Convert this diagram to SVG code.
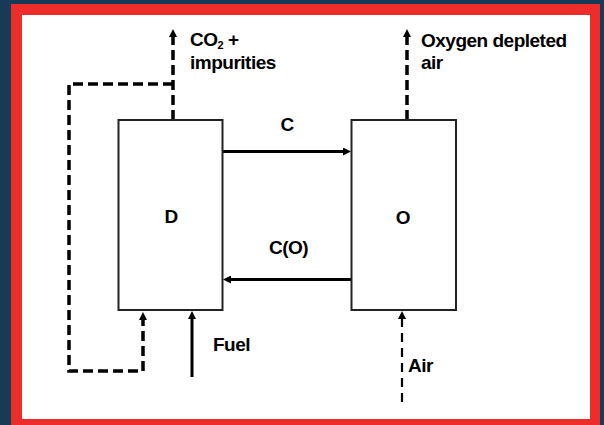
<svg xmlns="http://www.w3.org/2000/svg" width="604" height="425" viewBox="0 0 604 425">
<defs>
<style>
.lbl{font-family:"Liberation Sans",Arial,sans-serif;font-size:19px;font-weight:bold;letter-spacing:-0.5px;fill:#000}
.box{fill:#fff;stroke:#222;stroke-width:2}
.solid{fill:none;stroke:#000;stroke-width:3}
.dash{fill:none;stroke:#000;stroke-width:3.5;stroke-dasharray:10 5}
.dashthin{fill:none;stroke:#000;stroke-width:2.2;stroke-dasharray:9 6}
</style>
<marker id="ah" markerUnits="userSpaceOnUse" markerWidth="9" markerHeight="8" refX="2" refY="4" orient="auto" viewBox="0 0 9 8">
<path d="M0,0 L8,4 L0,8 z" fill="#000"/>
</marker>
</defs>
<rect x="0" y="0" width="604" height="425" fill="#173a57"/>
<rect x="11" y="4" width="589" height="421" fill="#ec2d2a"/>
<rect x="22" y="15" width="568" height="404" fill="#fff"/>

<g id="connectors">
<path class="dash" d="M173,120 V35" marker-end="url(#ah)"/>
<path class="dash" d="M173,84 H69 V371 H143 V318" marker-end="url(#ah)"/>
<path class="solid" d="M192,377 V317" marker-end="url(#ah)"/>
<path class="dash" d="M407,120 V35" marker-end="url(#ah)"/>
<path class="dashthin" d="M402,402 V317" marker-end="url(#ah)"/>
<path class="solid" d="M223,151.5 H345" marker-end="url(#ah)"/>
<path class="solid" d="M351,279.5 H229" marker-end="url(#ah)"/>
</g>

<g id="node-D">
<rect class="box" x="118.5" y="120" width="104" height="190"/>
<text class="lbl" x="171" y="223" text-anchor="middle">D</text>
</g>
<g id="node-O">
<rect class="box" x="351.5" y="120" width="104.5" height="190"/>
<text class="lbl" x="403" y="224" text-anchor="middle">O</text>
</g>

<g id="label-C"><text class="lbl" x="287" y="131" text-anchor="middle">C</text></g>
<g id="label-CO"><text class="lbl" x="288.5" y="254" text-anchor="middle">C(O)</text></g>
<g id="label-CO2">
<text class="lbl" x="190" y="46">CO<tspan font-size="11" dy="3">2</tspan><tspan dy="-3"> +</tspan></text>
<text class="lbl" x="190" y="69">impurities</text>
</g>
<g id="label-oxy">
<text class="lbl" x="421" y="46.5">Oxygen depleted</text>
<text class="lbl" x="421" y="69">air</text>
</g>
<g id="label-fuel"><text class="lbl" x="213" y="351">Fuel</text></g>
<g id="label-air"><text class="lbl" x="408" y="372">Air</text></g>
</svg>
